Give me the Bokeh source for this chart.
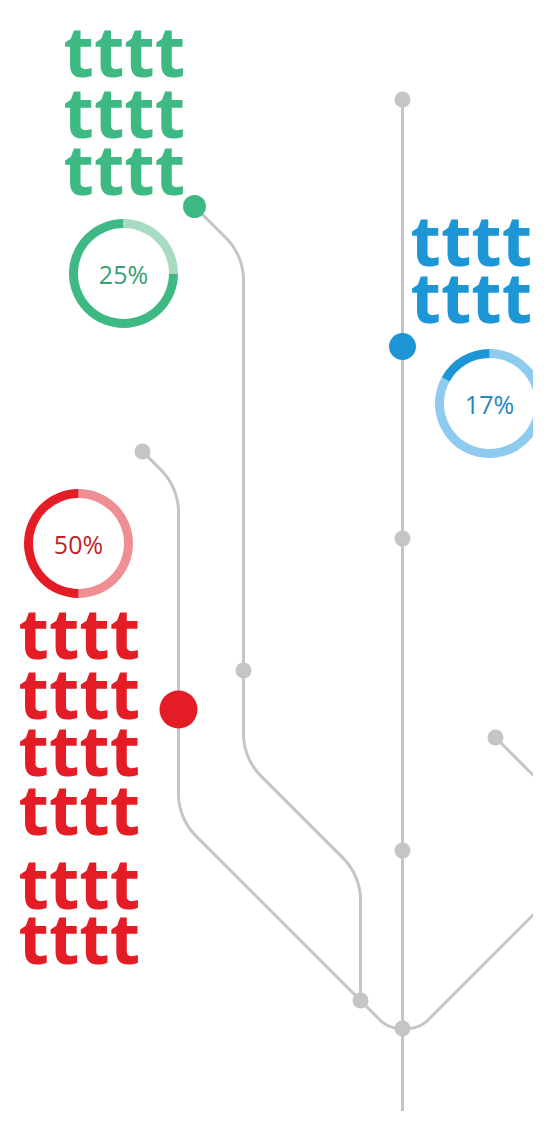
import numpy as np
from bokeh.plotting import figure
from bokeh.models import Range1d
from bokeh.core.properties import value
from bokeh.embed import file_html
from bokeh.resources import INLINE

# ---- data ----
ring_names = ["green", "blue", "red"]
ring_values = [25, 17, 50]
ring_labels = ["25%", "17%", "50%"]
green_lines = ["tttt", "tttt", "tttt"]
blue_lines = ["tttt", "tttt"]
red_lines = ["tttt", "tttt", "tttt", "tttt", "tttt", "tttt"]

# ---- style / layout ----
W, H = 533, 1111
GRAY = "#c5c5c7"
GREEN, GREEN_L, GREEN_T = "#3fb984", "#a7dcc3", "#3a9f74"
BLUE, BLUE_L, BLUE_T = "#1d96d6", "#8fcbee", "#1f88c2"
RED, RED_L, RED_T = "#e31c25", "#ef8e93", "#c21f2c"
BIG_FONT = "Noto Sans"
BIG_SIZE = 70
BASE_FIX = 0.4 * BIG_SIZE  # svg alphabetic baseline correction (px)

p = figure(width=W, height=H, x_range=Range1d(0, W), y_range=Range1d(-H, 0),
           output_backend="svg", toolbar_location=None, min_border=0,
           x_axis_type=None, y_axis_type=None, outline_line_color=None,
           background_fill_color="white", border_fill_color="white")
p.grid.visible = False


def rounded_path(pts, radii, n=30):
    pts = [np.array(q, dtype=float) for q in pts]
    xs, ys = [pts[0][0]], [pts[0][1]]
    for i in range(1, len(pts) - 1):
        p0, p1, p2 = pts[i - 1], pts[i], pts[i + 1]
        r = radii[i - 1]
        d1 = (p0 - p1) / np.linalg.norm(p0 - p1)
        d2 = (p2 - p1) / np.linalg.norm(p2 - p1)
        ang = np.arccos(np.clip(np.dot(d1, d2), -1, 1))
        half = ang / 2
        t = r / np.tan(half)
        a = p1 + d1 * t
        b = p1 + d2 * t
        bis = (d1 + d2) / np.linalg.norm(d1 + d2)
        c = p1 + bis * r / np.sin(half)
        aa = np.arctan2(a[1] - c[1], a[0] - c[0])
        ab = np.arctan2(b[1] - c[1], b[0] - c[0])
        da = (ab - aa + np.pi) % (2 * np.pi) - np.pi
        th = aa + da * np.linspace(0, 1, n)
        xs.extend(c[0] + r * np.cos(th))
        ys.extend(c[1] + r * np.sin(th))
    xs.append(pts[-1][0]); ys.append(pts[-1][1])
    return np.array(xs), -np.array(ys)


# tree geometry (picture pixel coordinates)
TX = 402
trunk_nodes_y = [99, 538, 850, 1028, 1118]
junction = (TX, 1028)

paths = [
    # red branch (passes through the merge node at (360, 1000))
    ([(142, 451), (178, 487), (178, 818), (388, 1028), junction], [60, 60, 30]),
    # green branch
    ([(194, 206), (243, 255), (243, 758), (360, 875), (360, 1000)], [60, 60, 60]),
    # right branch
    ([(495, 737), (556, 798), (556, 891), (419, 1028), junction], [60, 60, 30]),
]
p.line([TX, TX], [-99, -1118], line_color=GRAY, line_width=3)
for pts, radii in paths:
    xs, ys = rounded_path(pts, radii)
    p.line(xs, ys, line_color=GRAY, line_width=3)

# gray nodes
gx = [TX] * len(trunk_nodes_y) + [142, 243, 360, 495]
gy = trunk_nodes_y + [451, 670, 1000, 737]
p.circle(gx, [-v for v in gy], radius=8, fill_color=GRAY, line_color=None)

# coloured nodes
p.circle([194], [-206], radius=11.5, fill_color=GREEN, line_color=None)
p.circle([TX], [-346], radius=13.5, fill_color=BLUE, line_color=None)
p.circle([178], [-709], radius=19, fill_color=RED, line_color=None)

# rings
ring_centers = [(123, 273), (489, 403), (78, 543)]
ring_dirs = ["cw", "ccw", "ccw"]
ring_value_col = [GREEN_L, BLUE, RED]
ring_rest_col = [GREEN, BLUE_L, RED_L]
ring_text_col = [GREEN_T, BLUE_T, RED_T]
R_OUT, R_IN = 54.5, 45.5
for (cx, cy), v, d, vc, rc, lab, tc in zip(ring_centers, ring_values, ring_dirs,
                                         ring_value_col, ring_rest_col, ring_labels, ring_text_col):
    sweep = 2 * np.pi * v / 100
    top = np.pi / 2
    if d == "ccw":
        seg_v = (top, top + sweep)
        seg_r = (top + sweep, top + 2 * np.pi)
    else:
        seg_v = (top - sweep, top)
        seg_r = (top, top + 2 * np.pi - sweep)
    p.annular_wedge(x=[cx], y=[-cy], inner_radius=R_IN, outer_radius=R_OUT,
                    start_angle=seg_r[0], end_angle=seg_r[1], direction="anticlock",
                    fill_color=rc, line_color=None)
    p.annular_wedge(x=[cx], y=[-cy], inner_radius=R_IN, outer_radius=R_OUT,
                    start_angle=seg_v[0], end_angle=seg_v[1], direction="anticlock",
                    fill_color=vc, line_color=None)
    p.text(x=[cx], y=[-cy], text=[lab], text_align="center", text_baseline="middle",
           text_font=value("Open Sans"), text_font_size="25px", text_color=tc)


# big labels
def big_text(x, baselines, lines, color):
    p.text(x=[x] * len(lines), y=[-(b - BASE_FIX) for b in baselines], text=lines,
           text_align="left", text_baseline="alphabetic",
           text_font=value(BIG_FONT), text_font_style="bold",
           text_font_size=f"{BIG_SIZE}px", text_color=color)


big_text(63, [77, 138, 195], green_lines, GREEN)
big_text(410, [266, 323], blue_lines, BLUE)
big_text(18, [659, 719, 776, 835, 909, 964], red_lines, RED)

open("out.html", "w").write(file_html(p, INLINE))
